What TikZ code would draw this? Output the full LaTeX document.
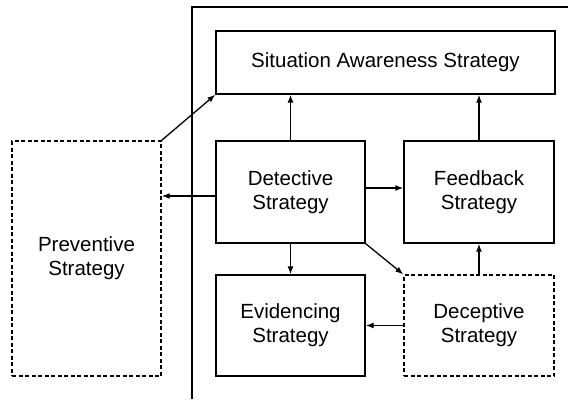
\documentclass[tikz,border=0pt]{standalone}
\usepackage{fontspec}
\setmainfont{Liberation Sans}
\usetikzlibrary{arrows.meta}

\begin{document}
\begin{tikzpicture}[x=1pt,y=-1pt,
  box/.style={draw,line width=1.3pt,align=center,inner sep=2pt,
    font=\fontsize{20.5}{24}\selectfont},
  dashbox/.style={box,dash pattern=on 4pt off 2.5pt},
  flow/.style={-{Latex[length=8pt,width=6pt]},line width=1.3pt}]
\useasboundingbox (0,0) rectangle (575,399);

% frame round the inner strategies
\draw[line width=1.3pt] (192,399)--(192,7)--(568,7);

% strategies
\node[box,minimum width=339pt,minimum height=63pt] (sa) at (385.5,62.5)
  {Situation Awareness Strategy};
\node[box,minimum width=149pt,minimum height=102pt] (det) at (290.5,192)
  {Detective\\Strategy};
\node[box,minimum width=150pt,minimum height=102pt] (fb) at (479,192)
  {Feedback\\Strategy};
\node[box,minimum width=149pt,minimum height=101pt] (evi) at (290.5,325.5)
  {Evidencing\\Strategy};
\node[dashbox,minimum width=150pt,minimum height=101pt] (dec) at (479,325.5)
  {Deceptive\\Strategy};
\node[dashbox,minimum width=149pt,minimum height=235pt] (prev) at (86.5,258.5)
  {Preventive\\Strategy};

% links
\draw[flow] (prev.north east)--(sa.south west);
\draw[flow] (det.north)--(det.north |- sa.south);
\draw[flow] (fb.north)--(fb.north |- sa.south);
\draw[flow] ([yshift=-4pt]det.west)--([yshift=-4pt]det.west -| prev.east);
\draw[flow] ([yshift=4pt]det.east)--([yshift=4pt]det.east -| fb.west);
\draw[flow] (det.south)--(evi.north);
\draw[flow] (det.south east)--(dec.north west);
\draw[flow] (dec.west)--(evi.east);
\draw[flow] (dec.north)--(fb.south);
\end{tikzpicture}
\end{document}
